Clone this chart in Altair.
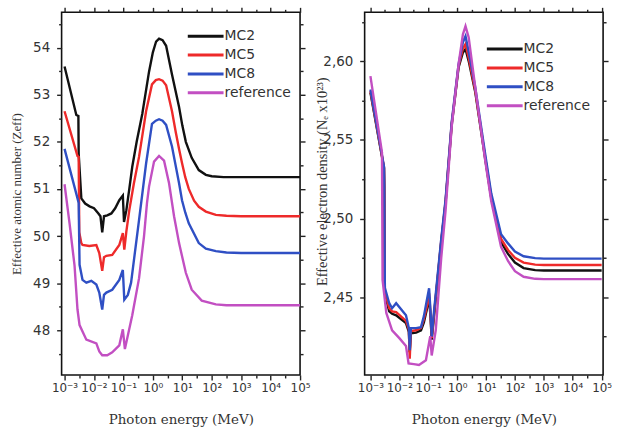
import altair as alt
import pandas as pd

series = ["MC2", "MC5", "MC8", "reference"]
colors = ["#111111", "#ee2a2a", "#2f4fc4", "#c24fc2"]

# ---------- Left panel: effective atomic number (log10 of photon energy in MeV) ----------
zeff_mc2_logE = [-3.0, -2.6, -2.53, -2.52, -2.43, -2.3, -2.15, -2.0, -1.85, -1.78, -1.72, -1.66, -1.55,
                 -1.41, -1.28, -1.14, -1.02, -0.98, -0.9, -0.8, -0.7, -0.55, -0.36, -0.13, 0.0, 0.11,
                 0.21, 0.33, 0.45, 0.65, 0.89, 1.0, 1.12, 1.32, 1.56, 1.8, 2.0, 2.4, 3.0, 4.0, 5.0]
zeff_mc2 = [53.6, 52.57, 52.55, 51.75, 50.8, 50.69, 50.63, 50.59, 50.48, 50.42, 50.08, 50.42, 50.44,
            50.48, 50.59, 50.76, 50.86, 50.3, 50.55, 51.0, 51.47, 52.0, 52.59, 53.49, 53.9, 54.13,
            54.19, 54.16, 54.04, 53.43, 52.74, 52.35, 52.0, 51.66, 51.4, 51.3, 51.27, 51.25, 51.25,
            51.25, 51.25]

zeff_mc5_logE = [-3.0, -2.56, -2.52, -2.5, -2.43, -2.39, -2.16, -1.92, -1.82, -1.72, -1.66, -1.58, -1.38,
                 -1.14, -1.02, -0.97, -0.9, -0.8, -0.65, -0.47, -0.23, -0.03, 0.1, 0.21, 0.33, 0.45,
                 0.65, 0.78, 0.89, 0.99, 1.1, 1.22, 1.4, 1.56, 1.8, 2.14, 2.5, 3.0, 4.0, 5.0]
zeff_mc5 = [52.65, 51.7, 51.68, 50.08, 49.85, 49.81, 49.79, 49.81, 49.64, 49.26, 49.55, 49.58, 49.6,
            49.81, 50.06, 49.71, 50.1, 50.55, 51.1, 51.68, 52.65, 53.22, 53.31, 53.33, 53.3, 53.2,
            52.65, 52.2, 51.85, 51.55, 51.25, 51.0, 50.75, 50.62, 50.52, 50.45, 50.43, 50.42, 50.42, 50.42]

zeff_mc8_logE = [-3.0, -2.56, -2.52, -2.49, -2.39, -2.26, -2.09, -1.92, -1.82, -1.72, -1.66, -1.58, -1.38,
                 -1.14, -1.02, -0.97, -0.85, -0.74, -0.47, -0.23, -0.03, 0.1, 0.21, 0.33, 0.45, 0.65,
                 0.89, 0.99, 1.1, 1.22, 1.56, 1.8, 2.14, 2.5, 3.0, 4.0, 5.0]
zeff_mc8 = [51.85, 50.8, 50.7, 49.39, 49.07, 49.01, 49.05, 48.97, 48.8, 48.44, 48.75, 48.8, 48.86,
            49.07, 49.28, 48.65, 48.75, 49.01, 50.34, 51.54, 52.38, 52.45, 52.48, 52.45, 52.36, 51.9,
            51.12, 50.76, 50.5, 50.27, 49.85, 49.73, 49.68, 49.65, 49.64, 49.64, 49.64]

zeff_ref_logE = [-3.0, -2.83, -2.66, -2.56, -2.49, -2.26, -1.92, -1.82, -1.72, -1.55, -1.38, -1.14, -1.02,
                 -0.95, -0.7, -0.47, -0.3, -0.2, -0.13, 0.04, 0.21, 0.38, 0.55, 0.72, 0.89, 1.12, 1.32,
                 1.66, 2.14, 2.5, 3.0, 4.0, 5.0]
zeff_ref = [51.1, 50.27, 49.37, 48.44, 48.11, 47.8, 47.72, 47.55, 47.47, 47.47, 47.53, 47.68, 48.02,
            47.6, 48.32, 49.1, 50.0, 50.7, 51.05, 51.58, 51.7, 51.6, 51.12, 50.42, 49.85, 49.22, 48.86,
            48.63, 48.55, 48.53, 48.53, 48.53, 48.53]

# ---------- Right panel: effective electron density (x10^23) ----------
ne_logE = [-3.0, -2.53, -2.52, -2.5, -2.35, -2.25, -2.11, -1.77, -1.67, -1.64, -1.6, -1.42, -1.25, -1.15,
           -1.05, -0.97, -0.92, -0.88, -0.8, -0.55, -0.4, -0.19, 0.05, 0.2, 0.29, 0.4, 0.63, 0.97,
           1.18, 1.52, 1.76, 2.0, 2.3, 2.7, 3.0, 4.0, 5.0]
ne_mc2 = [2.580, 2.532, 2.520, 2.452, 2.441, 2.4395, 2.4385, 2.4335, 2.428, 2.415, 2.427, 2.4275, 2.429,
          2.434, 2.442, 2.450, 2.437, 2.423, 2.438, 2.485, 2.510, 2.559, 2.596, 2.6055, 2.6076, 2.600,
          2.580, 2.538, 2.513, 2.485, 2.4775, 2.472, 2.4685, 2.4672, 2.467, 2.467, 2.467]
ne_mc5 = [2.581, 2.5325, 2.521, 2.454, 2.443, 2.441, 2.4405, 2.435, 2.4295, 2.411, 2.4285, 2.429, 2.4305,
          2.436, 2.444, 2.4525, 2.439, 2.424, 2.439, 2.486, 2.511, 2.560, 2.597, 2.608, 2.6108, 2.602,
          2.581, 2.539, 2.514, 2.487, 2.480, 2.475, 2.472, 2.4707, 2.4705, 2.4705, 2.4705]
ne_mc8 = [2.582, 2.533, 2.522, 2.456, 2.4462, 2.443, 2.4462, 2.4386, 2.4304, 2.4164, 2.4304, 2.4304,
          2.431, 2.438, 2.448, 2.4557, 2.441, 2.425, 2.441, 2.487, 2.512, 2.561, 2.598, 2.612, 2.6158,
          2.606, 2.583, 2.541, 2.516, 2.490, 2.4842, 2.479, 2.476, 2.4748, 2.4745, 2.4745, 2.4745]
ne_ref_logE = [-3.0, -2.6, -2.58, -2.45, -2.25, -2.0, -1.77, -1.68, -1.5, -1.32, -1.08, -0.93, -0.88,
               -0.74, -0.55, -0.4, -0.19, 0.05, 0.2, 0.29, 0.4, 0.63, 0.97, 1.18, 1.52, 1.76, 2.0, 2.3,
               2.7, 3.0, 4.0, 5.0]
ne_ref = [2.5905, 2.542, 2.461, 2.440, 2.429, 2.424, 2.419, 2.408, 2.4075, 2.407, 2.410, 2.4253, 2.413,
          2.429, 2.475, 2.505, 2.558, 2.598, 2.617, 2.6222, 2.615, 2.583, 2.537, 2.511, 2.482, 2.473,
          2.4665, 2.463, 2.4617, 2.4615, 2.4615, 2.4615]

x_major = [1e-3, 1e-2, 1e-1, 1e0, 1e1, 1e2, 1e3, 1e4, 1e5]
x_labels = ["10\u207b\u00b3", "10\u207b\u00b2", "10\u207b\u00b9", "10\u2070", "10\u00b9",
            "10\u00b2", "10\u00b3", "10\u2074", "10\u2075"]
zeff_ticks = [47.5, 48.0, 48.5, 49.0, 49.5, 50.0, 50.5, 51.0, 51.5, 52.0, 52.5, 53.0, 53.5, 54.0, 54.5]
ne_ticks = [2.425, 2.45, 2.475, 2.50, 2.525, 2.55, 2.575, 2.60, 2.625]


def table(parts):
    rows = []
    for name, (lx, vals) in zip(series, parts):
        for i, (a, b) in enumerate(zip(lx, vals)):
            rows.append({"series": name, "E": 10 ** a, "v": b, "i": i})
    return pd.DataFrame(rows)


left_df = table([(zeff_mc2_logE, zeff_mc2), (zeff_mc5_logE, zeff_mc5),
                 (zeff_mc8_logE, zeff_mc8), (zeff_ref_logE, zeff_ref)])
right_df = table([(ne_logE, ne_mc2), (ne_logE, ne_mc5), (ne_logE, ne_mc8), (ne_ref_logE, ne_ref)])

label_arr = "[" + ",".join("'" + s + "'" for s in x_labels) + "]"
is_major_x = "abs(log(datum.value)/LN10 - round(log(datum.value)/LN10)) < 0.01"
x_label_expr = f"{is_major_x} ? {label_arr}[round(log(datum.value)/LN10)+3] : ''"
x_minor = []
for k in range(-3, 5):
    x_minor.append(10 ** (k + 0.5))
x_vals = sorted(x_major + x_minor)

TICK_FONT = "DejaVu Sans"
TITLE_FONT = "Liberation Serif"
XTITLE_FONT = "DejaVu Serif"
GREY = "#333333"


def panel(df, xdomain, ydomain, yvals, y_major_expr, y_label_expr, ytitle, legx, legy, ytitle_kw):
    xscale = alt.Scale(type="log", domain=xdomain)
    yscale = alt.Scale(domain=ydomain, zero=False, nice=False)
    x_axis = alt.Axis(values=x_vals, labelExpr=x_label_expr, title="Photon energy (MeV)",
                      tickSize={"expr": f"{is_major_x} ? 5 : 3"}, labelFlush=False,
                      titlePadding=19, grid=False, labelFontSize=12, labelPadding=3,
                      titleFont=XTITLE_FONT, titleFontSize=13.5)
    y_axis = alt.Axis(values=yvals, labelExpr=f"{y_major_expr} ? {y_label_expr} : ''",
                      tickSize={"expr": f"{y_major_expr} ? 5 : 3"}, title=ytitle, grid=False,
                      labelFontSize=13.5, labelPadding=7, **ytitle_kw)
    lines = alt.Chart(df).mark_line(strokeWidth=2.4, clip=True).encode(
        x=alt.X("E:Q", scale=xscale, axis=x_axis),
        y=alt.Y("v:Q", scale=yscale, axis=y_axis),
        color=alt.Color("series:N", scale=alt.Scale(domain=series, range=colors),
                        legend=alt.Legend(orient="none", legendX=legx, legendY=legy, title=None,
                                          symbolType="M-4,0H4", symbolSize=81,
                                          symbolStrokeWidth=3, labelOffset=12, rowPadding=5,
                                          labelFont=TICK_FONT, labelFontSize=14, labelColor=GREY,
                                          padding=0)),
        order="i:Q",
    )
    mirror = alt.Chart(df).mark_line(opacity=0).encode(
        x=alt.X("E:Q", scale=xscale,
                axis=alt.Axis(orient="top", values=x_vals, labels=False, title=None, grid=False,
                              tickSize={"expr": f"{is_major_x} ? 5 : 3"})),
        y=alt.Y("v:Q", scale=yscale,
                axis=alt.Axis(orient="right", values=yvals, labels=False, title=None, grid=False,
                              tickSize={"expr": f"{y_major_expr} ? 5 : 3"})),
        detail="series:N",
    )
    return alt.layer(lines, mirror).resolve_axis(x="independent", y="independent").properties(
        width=240, height=365)


left = panel(left_df, [10 ** -3.1, 1e5], [47.05, 54.75], zeff_ticks,
             "datum.value % 1 == 0", "format(datum.value, 'd')",
             "Effective atomic number (Zeff)", 138, 17, {"titlePadding": 9, "titleFontSize": 13})
right = panel(right_df, [10 ** -3.2, 10 ** 5.05], [2.4006, 2.631], ne_ticks,
              "round(datum.value*1000) % 50 == 0", "replace(format(datum.value, '.2f'), '.', ',')",
              "Effective electron density (N\u2091 x10\u00b2\u00b3)", 134, 30,
              {"titleX": -35, "titleY": 170, "titleFontSize": 14.5})

chart = alt.hconcat(left, right, spacing=65, bounds="flush").resolve_scale(
    color="independent"
).properties(
    padding={"left": 10, "top": 4, "right": 5, "bottom": 5}, background="white"
).configure_view(stroke="#111111", strokeWidth=1.6).configure_axis(
    domain=False, tickColor="#222222", tickWidth=1.4,
    labelFont=TICK_FONT, labelColor=GREY,
    titleFont=TITLE_FONT, titleFontSize=14, titleFontWeight="normal", titleColor=GREY,
    grid=False,
)

chart.save("out.html", embed_options={"renderer": "svg", "actions": False})
